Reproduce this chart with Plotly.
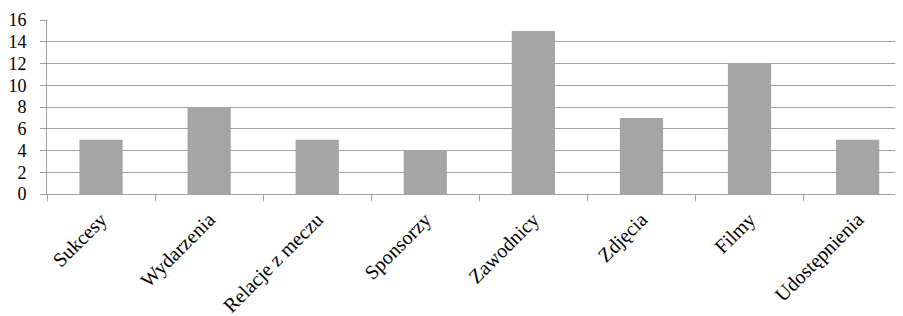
import plotly.graph_objects as go

categories = ["Sukcesy", "Wydarzenia", "Relacje z meczu", "Sponsorzy", "Zawodnicy", "Zdjęcia", "Filmy", "Udostępnienia"]
values = [5, 8, 5, 4, 15, 7, 12, 5]
y_ticks = [0, 2, 4, 6, 8, 10, 12, 14, 16]

fig = go.Figure(go.Bar(x=categories, y=values, marker=dict(color="#A5A5A5", line=dict(width=0)), width=0.4))

# page body has an 8px margin, so the figure is offset by (8, 8)
fig.update_layout(
    width=895, height=308,
    margin=dict(l=39, r=0, t=12, b=122),
    paper_bgcolor="white", plot_bgcolor="white",
    font=dict(family="Liberation Serif", size=18, color="black"),
    showlegend=False,
)
fig.update_xaxes(
    range=[-0.5, 7.42], tickangle=-45, tickson="boundaries", ticks="outside", ticklen=6,
    tickcolor="#A0A0A0", showline=True, linecolor="#A0A0A0", linewidth=1, showgrid=False,
    tickfont=dict(family="Liberation Serif", size=20, color="black"), automargin=False,
    ticklabelstandoff=5,
)
fig.update_yaxes(
    range=[0, 16], tickvals=y_ticks, ticks="outside", ticklen=6, tickcolor="#A0A0A0",
    showline=True, linecolor="#A0A0A0", linewidth=1, showgrid=True, gridcolor="#A0A0A0", gridwidth=1,
    zeroline=False, automargin=False, ticklabelstandoff=10,
    tickfont=dict(family="Liberation Serif", size=18, color="black"),
)
fig.write_html("out.html")
